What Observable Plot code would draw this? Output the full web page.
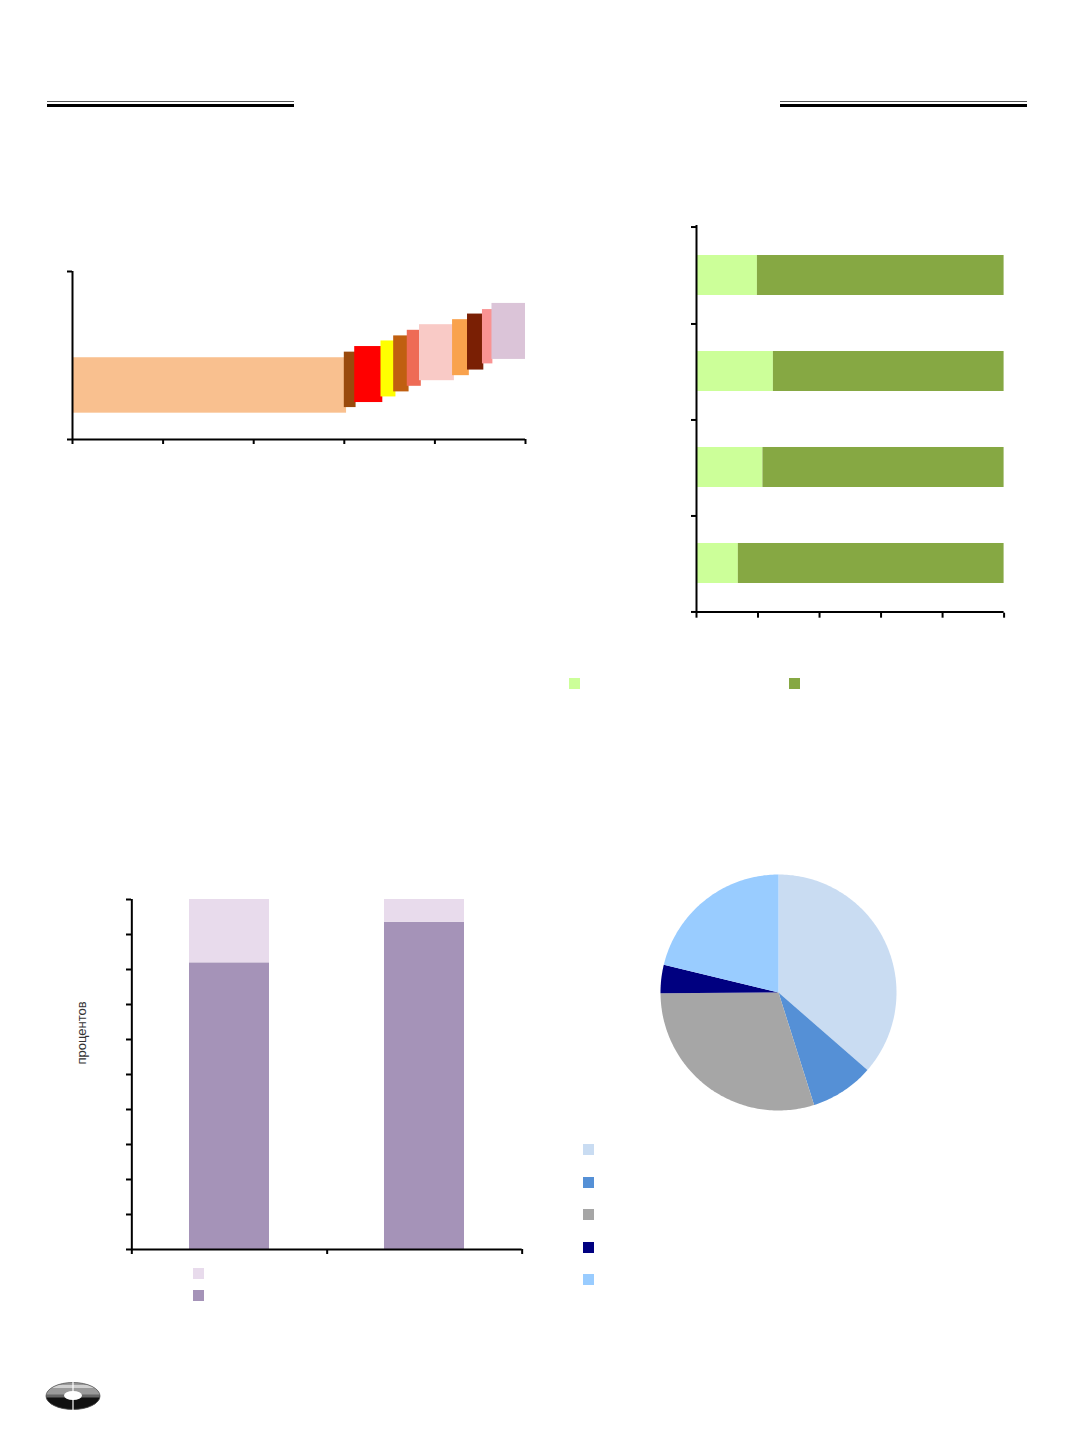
<!DOCTYPE html>
<html><head><meta charset="utf-8">
<script src="https://cdn.jsdelivr.net/npm/d3@7"></script>
<script src="https://cdn.jsdelivr.net/npm/@observablehq/plot@0.6"></script>
<style>
html,body{margin:0;padding:0;background:#fff;}
#page{position:relative;width:1072px;height:1433px;overflow:hidden;background:#fff;font-family:"Liberation Sans",Arial,sans-serif;}
.abs{position:absolute;}
.abs svg{display:block;overflow:visible;background:transparent;}
.sw{position:absolute;width:11px;height:11px;}
.rule-thin{position:absolute;height:1px;background:#555;}
.rule-thick{position:absolute;height:3px;background:#000;}
</style></head><body><div id="page"></div>
<script>
// ---------- Chart 1: cost-curve style blocks ----------
const costColors = ["#F9C08F","#9A4A0C","#FF0000","#FFFF00","#C05F10","#EE6B55","#F9CAC6","#F9A24D","#7A1F04","#F99393","#DBC4D8"];
const costX1 = [0, 60.0, 62.3, 68.1, 70.9, 73.9, 76.6, 83.9, 87.2, 90.5, 92.6];
const costX2 = [60.5, 62.6, 68.5, 71.4, 74.3, 77.0, 84.3, 87.6, 90.8, 92.8, 100];
const costY1 = [4.7, 5.7, 6.6, 7.6, 8.5, 9.5, 10.5, 11.4, 12.4, 13.5, 14.3];
const costY2 = [14.6, 15.6, 16.6, 17.6, 18.5, 19.5, 20.5, 21.4, 22.4, 23.2, 24.3];
const costXTicks = [0, 20, 40, 60, 80, 100];
const costYTicks = [0, 30];

// ---------- Chart 2: horizontal 100% stacked bars ----------
const shareCats = ["1", "2", "3", "4"];
const shareSeries = ["доля 1", "доля 2"];
const shareColors = ["#CCFF99", "#86A843"];
const shareLight = [19.8, 25.0, 21.6, 13.6];
const shareDark = [80.2, 75.0, 78.4, 86.4];
const shareXTicks = [0, 20, 40, 60, 80, 100];

// ---------- Chart 3: vertical 100% stacked bars ----------
const colCats = ["1", "2"];
const colSeries = ["нижняя", "верхняя"];
const colColors = ["#A593B8", "#E8DBEC"];
const colLower = [81.9, 93.5];
const colUpper = [18.1, 6.5];
const colYTicks = [0, 10, 20, 30, 40, 50, 60, 70, 80, 90, 100];
const colYLabel = "процентов";

// ---------- Chart 4: pie ----------
const pieNames = ["p1", "p2", "p3", "p4", "p5"];
const pieColors = ["#C9DCF2", "#5590D6", "#A6A6A6", "#000080", "#99CCFF"];
const pieValues = [36.4, 8.7, 29.75, 3.9, 21.2];

const page = document.getElementById("page");
function mount(node, left, top) {
  const d = document.createElement("div");
  d.className = "abs";
  d.style.left = left + "px";
  d.style.top = top + "px";
  d.appendChild(node);
  page.appendChild(d);
}
function swatch(color, left, top) {
  const s = document.createElement("div");
  s.className = "sw";
  s.style.left = left + "px"; s.style.top = top + "px";
  s.style.background = color;
  page.appendChild(s);
}
const blank = () => "";
const axisStyle = {stroke: "#000", strokeWidth: 2};
const tk = {tickSize: 5, tickFormat: blank, label: null, ...axisStyle};

// header rules
[[47, 247], [780, 247]].forEach(([l, w]) => {
  const a = document.createElement("div"); a.className = "rule-thin";
  a.style.left = l + "px"; a.style.top = "100.5px"; a.style.width = w + "px"; page.appendChild(a);
  const b = document.createElement("div"); b.className = "rule-thick";
  b.style.left = l + "px"; b.style.top = "103.5px"; b.style.width = w + "px"; page.appendChild(b);
});

// ---- Chart 1 ----
{
  const m = {top: 10, right: 10, bottom: 20, left: 20};
  const W = 453, H = 168;
  const rows = costColors.map((c, i) => ({i, c, x1: costX1[i], x2: costX2[i], y1: costY1[i], y2: costY2[i]}));
  const p = Plot.plot({
    width: W + m.left + m.right, height: H + m.top + m.bottom,
    marginTop: m.top, marginRight: m.right, marginBottom: m.bottom, marginLeft: m.left,
    style: {background: "transparent"},
    x: {domain: [0, 100], axis: null, label: null},
    y: {domain: [0, 30], axis: null, label: null},
    marks: [
      Plot.rect(rows, {x1: "x1", x2: "x2", y1: "y1", y2: "y2", fill: d => d.c}),
      Plot.ruleX([0], axisStyle),
      Plot.ruleY([0], axisStyle),
      Plot.axisX({ticks: costXTicks, ...tk}),
      Plot.axisY({ticks: costYTicks, ...tk})
    ]
  });
  mount(p, 72 - m.left, 271 - m.top);
}

// ---- Chart 2 ----
{
  const m = {top: 10, right: 12, bottom: 20, left: 20};
  const W = 307.6, H = 387.7;
  const step = H / shareCats.length;
  const rows = [];
  shareCats.forEach((c, i) => {
    rows.push({cat: c, s: shareSeries[0], v: shareLight[i]});
    rows.push({cat: c, s: shareSeries[1], v: shareDark[i]});
  });
  const p = Plot.plot({
    width: W + m.left + m.right, height: H + m.top + m.bottom,
    marginTop: m.top, marginRight: m.right, marginBottom: m.bottom, marginLeft: m.left,
    style: {background: "transparent"},
    x: {domain: [0, 100], axis: null, label: null},
    y: {domain: shareCats, axis: null, label: null, paddingInner: 0.588, paddingOuter: 0.294},
    color: {domain: shareSeries, range: shareColors},
    marks: [
      Plot.barX(rows, {y: "cat", x: "v", fill: "s"}),
      Plot.ruleX([0], axisStyle),
      Plot.ruleY([shareCats[shareCats.length - 1]], {...axisStyle, dy: step / 2}),
      Plot.axisX({ticks: shareXTicks, ...tk}),
      Plot.axisY({ticks: shareCats, dy: step / 2, ...tk}),
      Plot.axisY({ticks: [shareCats[0]], dy: -step / 2, ...tk})
    ]
  });
  mount(p, 695.7 - m.left, 225 - m.top);
  swatch(shareColors[0], 568.5, 677.5);
  swatch(shareColors[1], 789, 677.5);
}

// ---- Chart 3 ----
{
  const m = {top: 10, right: 12, bottom: 20, left: 20};
  const W = 390.7, H = 350;
  const step = W / colCats.length;
  const rows = [];
  colCats.forEach((c, i) => {
    rows.push({cat: c, s: colSeries[0], v: colLower[i]});
    rows.push({cat: c, s: colSeries[1], v: colUpper[i]});
  });
  const p = Plot.plot({
    width: W + m.left + m.right, height: H + m.top + m.bottom,
    marginTop: m.top, marginRight: m.right, marginBottom: m.bottom, marginLeft: m.left,
    style: {background: "transparent"},
    x: {domain: colCats, axis: null, label: null, paddingInner: 0.591, paddingOuter: 0.2955},
    y: {domain: [0, 100], axis: null, label: null},
    color: {domain: colSeries, range: colColors},
    marks: [
      Plot.barY(rows, {x: "cat", y: "v", fill: "s"}),
      Plot.ruleX([colCats[0]], {...axisStyle, dx: -step / 2}),
      Plot.ruleY([0], axisStyle),
      Plot.axisY({ticks: colYTicks, ...tk}),
      Plot.axisX({ticks: colCats, dx: step / 2, ...tk}),
      Plot.axisX({ticks: [colCats[0]], dx: -step / 2, ...tk})
    ]
  });
  mount(p, 131 - m.left, 899.3 - m.top);
  const lbl = document.createElement("div");
  lbl.textContent = colYLabel;
  lbl.style.cssText = "position:absolute;left:80.5px;top:1033px;font-size:13px;color:#333;white-space:nowrap;transform:translate(-50%,-50%) rotate(-90deg);";
  page.appendChild(lbl);
  swatch(colColors[1], 193, 1268);
  swatch(colColors[0], 193, 1289.5);
}

// ---- Chart 4 ----
{
  const arcs = d3.pie().sort(null).value(d => d)(pieValues);
  const pts = [];
  arcs.forEach((a, i) => {
    const name = pieNames[i];
    pts.push({name, x: 0, y: 0});
    const n = Math.max(2, Math.ceil((a.endAngle - a.startAngle) / (Math.PI / 180)));
    for (let k = 0; k <= n; k++) {
      const t = a.startAngle + (a.endAngle - a.startAngle) * k / n;
      pts.push({name, x: Math.sin(t), y: Math.cos(t)});
    }
    pts.push({name, x: 0, y: 0});
  });
  const S = 240, mg = 2;
  const p = Plot.plot({
    width: S, height: S, margin: mg,
    style: {background: "transparent"},
    x: {domain: [-1, 1], axis: null, label: null},
    y: {domain: [-1, 1], axis: null, label: null},
    color: {domain: pieNames, range: pieColors},
    marks: [
      Plot.line(pts, {x: "x", y: "y", z: "name", fill: "name", stroke: "none"})
    ]
  });
  mount(p, 777.7 - S / 2, 992.3 - S / 2);
  const tops = [1144, 1176.5, 1209, 1241.5, 1274];
  pieColors.forEach((c, i) => swatch(c, 582.5, tops[i]));
}

// ---- logo ----
{
  const ns = "http://www.w3.org/2000/svg";
  const svg = document.createElementNS(ns, "svg");
  svg.setAttribute("width", 58); svg.setAttribute("height", 32);
  svg.innerHTML = `
    <defs><clipPath id="lc"><ellipse cx="28" cy="15" rx="27" ry="13.5"/></clipPath></defs>
    <g clip-path="url(#lc)">
      <rect x="0" y="0" width="58" height="32" fill="#9a9a9a"/>
      <rect x="0" y="4" width="58" height="3" fill="#d0d0d0"/>
      <rect x="0" y="15" width="58" height="17" fill="#111"/>
      <rect x="0" y="13.5" width="58" height="3" fill="#666"/>
    </g>
    <ellipse cx="28" cy="15" rx="27" ry="13.5" fill="none" stroke="#555" stroke-width="0.8"/>
    <ellipse cx="28" cy="14.5" rx="9" ry="4.5" fill="#fff"/>
    <line x1="28" y1="1" x2="28" y2="31" stroke="#fff" stroke-width="1.2"/>`;
  const d = document.createElement("div");
  d.className = "abs"; d.style.left = "45px"; d.style.top = "1381px";
  d.appendChild(svg); page.appendChild(d);
}
</script></body></html>
